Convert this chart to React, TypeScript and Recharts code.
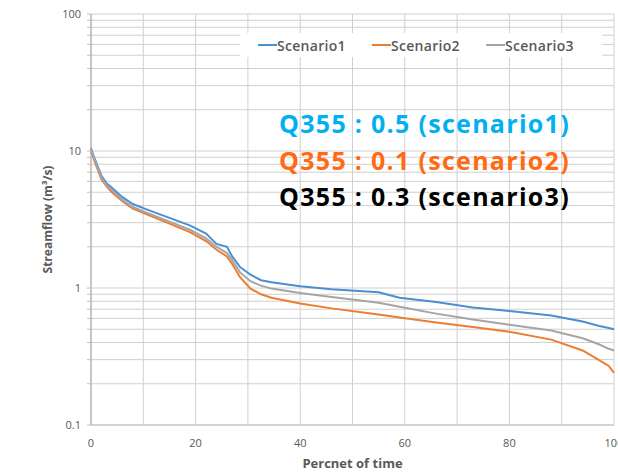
import { CartesianGrid, Line, LineChart, XAxis, YAxis } from "recharts"

const percent = [0, 0.5, 1, 2, 3, 4, 6, 8, 11, 15, 19, 22, 24, 26, 27, 28.5, 30.5, 32.5, 34.5, 40, 46, 55, 59, 66, 73, 80, 88, 94, 97, 99, 100]
const scenario1 = [10.5, 9.2, 8.2, 6.6, 5.8, 5.4, 4.6, 4.1, 3.7, 3.25, 2.85, 2.5, 2.1, 2.0, 1.7, 1.42, 1.25, 1.14, 1.1, 1.03, 0.98, 0.93, 0.85, 0.79, 0.72, 0.68, 0.63, 0.57, 0.53, 0.51, 0.5]
const scenario2 = [10.0, 8.8, 7.8, 6.2, 5.5, 5.0, 4.3, 3.8, 3.4, 2.95, 2.55, 2.2, 1.9, 1.7, 1.5, 1.2, 0.99, 0.9, 0.85, 0.77, 0.71, 0.64, 0.61, 0.56, 0.52, 0.48, 0.42, 0.35, 0.3, 0.27, 0.24]
const scenario3 = [10.3, 9.0, 8.0, 6.4, 5.6, 5.2, 4.4, 3.9, 3.5, 3.05, 2.65, 2.3, 2.0, 1.8, 1.6, 1.3, 1.12, 1.04, 0.99, 0.92, 0.86, 0.78, 0.73, 0.65, 0.59, 0.54, 0.49, 0.43, 0.39, 0.36, 0.35]

const xTicks = [0, 10, 20, 30, 40, 50, 60, 70, 80, 90, 100]
const xLabels = [0, 20, 40, 60, 80, 100]
const yTicks = [0.1, 0.2, 0.3, 0.4, 0.5, 0.6, 0.7, 0.8, 0.9, 1, 2, 3, 4, 5, 6, 7, 8, 9, 10, 20, 30, 40, 50, 60, 70, 80, 90, 100]
const yLabels = [0.1, 1, 10, 100]

const series = [
  { key: "s1", name: "Scenario1", color: "#4a8fd4" },
  { key: "s2", name: "Scenario2", color: "#ed7d31" },
  { key: "s3", name: "Scenario3", color: "#a5a5a5" },
]

const notes = [
  { text: "Q355 : 0.5 (scenario1)", color: "#00b0f0" },
  { text: "Q355 : 0.1 (scenario2)", color: "#ff6a13" },
  { text: "Q355 : 0.3 (scenario3)", color: "#000000" },
]

const data = percent.map((p, i) => ({
  p,
  s1: scenario1[i],
  s2: scenario2[i],
  s3: scenario3[i],
}))

const font = "'Open Sans', sans-serif"

export default function App() {
  return (
    <div style={{ position: "absolute", left: 0, top: 0, width: 618, height: 472, background: "#fff", fontFamily: font }}>
      <LineChart width={618} height={472} data={data} margin={{ top: 14, right: 4, bottom: 0, left: 0 }}>
        <CartesianGrid stroke="#d0d0d0" strokeWidth={1} />
        <XAxis
          dataKey="p"
          type="number"
          domain={[0, 100]}
          ticks={xTicks}
          tickFormatter={(v) => (xLabels.includes(v) ? String(v) : "")}
          interval={0}
          height={47}
          tickLine={false}
          tickMargin={8}
          axisLine={{ stroke: "#bfbfbf" }}
          tick={{ fontSize: 11, fill: "#595959", fontFamily: font }}
          label={{ value: "Percnet of time", position: "insideBottom", offset: 4, style: { fontSize: 13, fontWeight: 700, fill: "#595959", fontFamily: font } }}
        />
        <YAxis
          scale="log"
          domain={[0.1, 100]}
          ticks={yTicks}
          tickFormatter={(v) => (yLabels.includes(v) ? String(v) : "")}
          interval={0}
          allowDataOverflow
          width={91}
          tickSize={4}
          tickMargin={6}
          tickLine={{ stroke: "#bfbfbf" }}
          axisLine={{ stroke: "#a6a6a6" }}
          tick={{ fontSize: 11, fill: "#595959", fontFamily: font }}
          label={{ value: "Streamflow (m³/s)", angle: -90, position: "center", dx: 2, style: { fontSize: 12, fontWeight: 700, fill: "#595959", fontFamily: font, textAnchor: "middle" } }}
        />
        {series.map((s) => (
          <Line key={s.key} name={s.name} dataKey={s.key} stroke={s.color} strokeWidth={2} dot={false} isAnimationActive={false} />
        ))}
      </LineChart>
      <div
        style={{ position: "absolute", left: 240, top: 33, width: 362, height: 24, background: "#fff", display: "flex", alignItems: "center", paddingLeft: 18, boxSizing: "border-box", fontSize: 14, fontWeight: 600, color: "#595959" }}
      >
        {series.map((s) => (
          <div key={s.key} style={{ display: "flex", alignItems: "center", width: 114 }}>
            <span style={{ display: "inline-block", width: 19, height: 2, background: s.color }} />
            <span style={{ letterSpacing: 0.3 }}>{s.name}</span>
          </div>
        ))}
      </div>
      {notes.map((n, i) => (
        <div
          key={n.text}
          style={{ position: "absolute", left: 279, top: 107 + i * 36.5, fontSize: 25, fontWeight: 700, letterSpacing: 1.3, color: n.color, lineHeight: "32px", whiteSpace: "nowrap" }}
        >
          {n.text}
        </div>
      ))}
    </div>
  )
}
